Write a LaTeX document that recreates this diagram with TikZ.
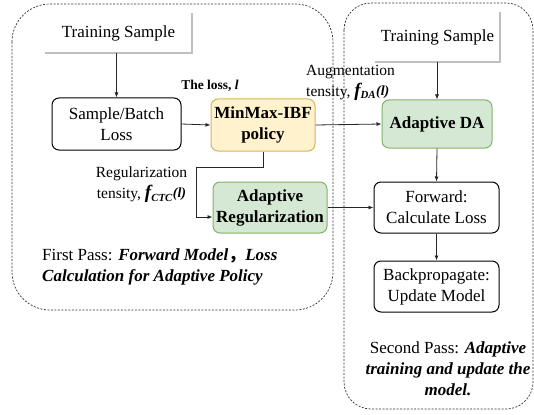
\documentclass[tikz,border=0pt]{standalone}
\usepackage{fontspec}
\setmainfont{Liberation Serif}
\newfontfamily\cjk{Noto Sans CJK SC}
\usetikzlibrary{arrows.meta,calc}
\definecolor{yellowfill}{HTML}{FFF2CC}
\definecolor{yellowline}{HTML}{D6B656}
\definecolor{greenfill}{HTML}{D5E8D4}
\definecolor{greenline}{HTML}{82B366}
\newcommand{\tensf}[1]{{\bfseries\itshape {\fontsize{19}{21}\selectfont f}\textsubscript{#1}\raisebox{1.5pt}{\fontsize{14}{14}\selectfont(l)}}}
\begin{document}
\begin{tikzpicture}[x=1pt,y=-1pt,
  every node/.style={inner sep=0pt, font=\fontsize{17}{21}\selectfont, text=black},
  box/.style={draw=black, line width=1pt, rounded corners=7pt, align=center},
  yel/.style={box, fill=yellowfill, draw=yellowline},
  grn/.style={box, fill=greenfill, draw=greenline},
  arr/.style={-{Latex[length=5pt,width=4pt]}, line width=0.8pt, draw=black!85},
  region/.style={dash pattern=on 2pt off 1.5pt, line width=0.7pt, draw=black!80},
  shade/.style={draw=gray!50, line width=1.8pt},
  lbl/.style={font=\fontsize{15.5}{21}\selectfont}
]
\useasboundingbox (0,0) rectangle (534,414);

% regions
\draw[region, rounded corners=38pt] (12,4) rectangle (333,310);
\draw[region, rounded corners=27pt] (344,3) rectangle (533,409);

% training samples
\node[minimum width=147pt, minimum height=40pt] (tsL) at (118.5,33) {Training Sample};
\draw[shade] (tsL.north east) -- (tsL.south east) -- (tsL.south west);
\node[minimum width=125pt, minimum height=50pt] (tsR) at (437.5,37) {Training Sample};
\draw[shade] (tsR.north east) -- (tsR.south east) -- (tsR.south west);

% boxes
\node[box, minimum width=129pt, minimum height=52pt] (sbl) at (116.5,124) {Sample/Batch\\Loss};
\node[yel, minimum width=104pt, minimum height=52pt] (mm) at (263,125) {\bfseries MinMax-IBF\\\bfseries policy};
\node[grn, minimum width=110pt, minimum height=48pt] (da) at (437,124) {\bfseries Adaptive DA};
\node[grn, minimum width=114pt, minimum height=51pt] (ar) at (270,207.5) {\bfseries Adaptive\\\bfseries Regularization};
\node[box, minimum width=125pt, minimum height=51pt] (fw) at (436.5,207.5) {Forward:\\Calculate Loss};
\node[box, minimum width=125pt, minimum height=51pt] (bp) at (436.5,286.5) {Backpropagate:\\Update Model};

% labels
\node[font=\fontsize{13.5}{16}\selectfont\bfseries] (loss) at (210,86) {The loss, \textit{l}};
\node[lbl, anchor=west, align=left] (aug) at (306,83) {Augmentation\\tensity, \tensf{DA}};
\node[lbl, align=center] (reg) at (141.5,185) {Regularization\\tensity, \tensf{CTC}};
\node[anchor=west, align=left] (p1) at (42,266.5) {First Pass: {\bfseries\itshape Forward Model{\cjk ，}Loss}\\{\bfseries\itshape Calculation for Adaptive Policy}};
\node[align=center] (p2) at (448,369) {Second Pass: {\bfseries\itshape Adaptive}\\{\bfseries\itshape training and update the}\\{\bfseries\itshape model.}};

% connectors
\coordinate (c1) at (196,167);
\draw[arr] (sbl.north |- tsL.south) -- (sbl.north);
\draw[arr] (da.north |- tsR.south) -- (da.north);
\draw[arr] (sbl.east) -- (mm.west);
\draw[arr] (mm.east) -- (da.west);
\draw[arr] (mm.south) |- (c1) |- ($(ar.west)+(0,9.5)$);
\draw[arr] (ar.east) -- (fw.west);
\draw[arr] (da.south) -- (fw.north);
\draw[arr] (fw.south) -- (bp.north);
\end{tikzpicture}
\end{document}
